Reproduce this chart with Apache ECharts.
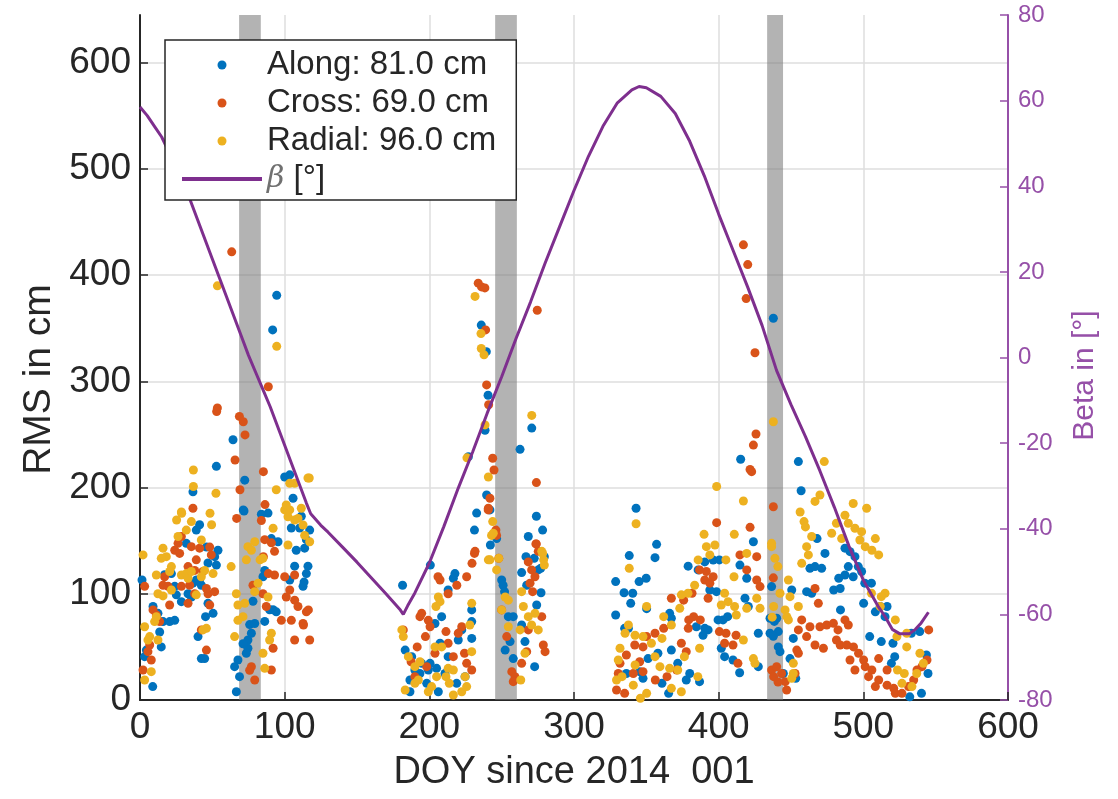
<!DOCTYPE html>
<html><head><meta charset="utf-8">
<script src="https://cdn.jsdelivr.net/npm/echarts@6/dist/echarts.min.js"></script>
<style>html,body{margin:0;padding:0;background:#fff}#c{width:1118px;height:799px}</style>
</head><body><div id="c"></div>
<script>
const seriesNames = ['Along: 81.0 cm', 'Cross: 69.0 cm', 'Radial: 96.0 cm', 'β [°]'];
const xTicks = [0, 100, 200, 300, 400, 500, 600];
const yTicks = [0, 100, 200, 300, 400, 500, 600];
const betaTicks = [-80, -60, -40, -20, 0, 20, 40, 60, 80];
const bandStart = [68.5, 245.5, 433.5];
const bandEnd = [83.5, 260.5, 444.5];

const along = [
[1.4,113],[9,88],[12.4,81.6],[15.9,73.8],[20.5,73.8],[24,75],[13.6,64],[14.7,50],[4.4,47],[3.2,40.8],[8.8,12.6],
[21.7,119],[28.6,92.6],[33.2,100],[36.6,110],[39,113],[41.2,113],[42.4,108],[47,91],[50.5,81.6],[45.3,78.5],[40.1,59.7],[42.4,39],[44.7,39],[47,129],[53.9,141],[51.6,135],[32,147.5],[41.2,165],[38.9,160],[45.9,144],[52.8,127],[24,107],[17,118],[25.1,99],[35.5,97],
[36.6,196],[52.8,220],[64.3,245],[72.4,207],[71.9,178],[88.5,176],[83.9,175],[100,210],[103.5,212],[105.8,190],[111.5,173],[104.6,162],[110.4,162],[117.3,160],[115,151],[108,141],[113.8,143],[116.1,126],[115,119],[113.4,111],[112.7,107],[106.9,126],[103.5,113],[90.8,152],[95.4,149],[86.2,122],[85,116],[92,85],[89.6,85],[94.2,83],[86.2,74],[78.1,93],[75.8,71],[79.3,72],[74.6,56.5],[74.6,48.7],[73.5,44],[67.7,37.7],[65.4,31.4],[68.8,22],[66.6,7.8],[71.2,53],[77,62.8],[94.5,381],[91.7,348.5],[71.4,179],
[181.5,108],[200.7,127],[217.7,119],[216.6,114.6],[213,103.6],[235.9,353],[239.4,328],[240.6,287],[238.5,254],[227,229],[239.6,193],[241.9,179],[232.7,176],[231.2,160],[242.2,146],[246.5,152],[270.8,256],[262.7,236],[274,173],[278.3,160],[268.4,154],[279.5,135],[275.3,122.5],[266.8,135],[263.8,120],[267.3,108],[277.2,101],
[250,113],[251,108],[252,102],[254.6,78.5],[258,78.5],[272.5,133.4],[277,124],[274.2,89.5],[272.8,31.4],[263.8,70.6],[266.1,55],[258,39],[255.8,55],[252.4,47],[229.3,84.8],[229.3,58],[222.4,66],[229.3,73.8],[213,40.8],[210.8,25],[205,29.8],[198.2,15.7],[194.7,34.5],[190,28.3],[186.6,18.8],[183.3,47],[187.8,40.8],[199.3,28.3],[218.9,15.7],[224.7,22],[206.2,7.8],[186.6,7.8],[193.5,25],[203.9,72],[208.5,78.5],[220,56.5],[207.4,53.4],[200.5,34.5],
[342.9,180.5],[357.1,146.6],[356,134],[338.2,136],[328.8,111.5],[334.6,101],[340.6,100.5],[345,111.5],[349.9,114.6],[339.2,91],[328.8,80],[337.6,67.5],[350.2,86],[366.1,81.6],[367.3,77],[378.9,126],[385.8,122.5],[390.4,130],[396.2,131.8],[398.5,102],[393.9,103.6],[392.7,66],[390.4,67.5],[399.6,75.4],[403,75.4],[401.8,48.7],[404.1,40.8],[409.9,37.7],[414.5,25.7],[389.2,61],[384.6,69],[380,25],[377.6,18.8],[386.8,17.3],[365.4,6.3],[360.8,15.7],[371.7,34.5],[367.3,47],[358,44],[351.2,39],[347.7,20.4],[345.4,26.7],[336.2,25],[335,67.5],[418.2,95.8],[420.5,88],[424,149],[427.4,62.8],[427.4,31.4],[419.4,114.6],[414.7,127],[400.5,131.9],[406.2,78.5],[415.2,226.7],[437.8,359.5],
[455.1,224.5],[457,197],[468,152],[463.1,124],[466.6,125.6],[471.2,124],[473.5,138],[487.3,143],[490.8,139.7],[494.2,135],[489.6,125.6],[496.5,125.6],[498.8,121],[487.3,117.7],[493,116],[483,114.6],[479.5,103.6],[484,105],[501,110],[505.6,110],[500.2,91],[508.3,83],[511.7,88],[516.4,88],[515,78.5],[504.4,59.7],[512.4,55],[520.5,53.4],[533.2,62.8],[539,64.4],[519.4,34.5],[521.7,40.8],[543.6,42.4],[544.7,25],[532.1,3],[540.2,6.3],[484.2,84.8],[464.3,100.5],[450.5,103.6],[460.8,102],[436.6,106.8],[435.5,77],[440.1,77],[435.5,62.8],[441.2,64.4],[441.2,50],[442.4,45.5],[451.6,58],[449.3,39],[444.7,25],[453.3,20.4],[437.8,60],[438.5,74]
];

const cross = [
[63.4,422],[53,271.6],[53.5,275],[68.7,267],[71.4,262],[72.6,249.6],[88.7,295],[65.7,226],[85.3,215],[69.1,198],[66.8,171],[86.4,184],
[83.9,169],[86.2,151],[93,140],[90.8,148],[36.6,180.5],[28.6,154],[26.3,147.5],[24,141],[27.4,138],[35.5,144.4],[41.2,143],[48.2,144],[38.9,132],[49.3,136.6],[33.2,125.6],[37.8,122],[43.5,121],[15.9,108],[19.4,107],[17,116],[20.5,89.5],[28.6,107],[33.2,91],[37.8,100],[47,100],[51.6,102],[48.2,89.5],[45.9,105],[34.3,108],[9,84.8],[11.3,80],[13.6,73.8],[6.7,51.8],[7.8,37.7],[2.1,28.3],[5.5,45.5],[42.4,66],[45.9,47],[93,117.7],[100,116],[106.9,117.7],[103.5,103.6],[101.1,97],[106.9,94],[109.2,88],[115,83],[112.7,72],[97.7,75],[104.6,75],[106.9,56.5],[117.3,56.5],[92,48.7],[87.3,88],[85,100],[78.1,108],[77,31.4],[75.8,28],[79.3,18.8],[90.8,28.3],[3.2,107],[116.4,84.8],[113,70.6],[88.7,119],[85.3,135],
[233.8,392.5],[236.1,389],[238.4,388],[238.9,348.5],[239.6,296.7],[241,278],[243.8,227.6],[244.7,216.6],[241.9,190],[240.8,180.5],[231.2,138],[229.5,128.7],[246,160],[274.6,367],[274,204.7],[273.7,147],[268.4,130],[273,116],[269.6,110],[271.4,102],
[206,116],[225.8,116],[219,108],[213,100],[231.6,140],[182,66],[193.5,78.5],[199.3,75],[194.7,81.6],[200.5,69],[197.3,59.7],[191.6,50],[187.4,36],[211.5,64.4],[213,53.4],[222.4,69],[220,62.8],[225.8,34.5],[229.3,28.3],[216.6,40.8],[203.9,44],[198.2,31.4],[190,22],[224.3,44],[250,84.8],[253.5,59.7],[257,26.7],[259.2,22],[258,17.3],[268.4,66],[275.3,140],[270.7,122.5],[277.7,78.5],[278.8,51.8],[280,45.5],[267.3,45.5],[263.8,34.5],[273.9,147],[246.5,155],[248,133.4],[240.7,179],[207.4,113],
[417.1,428.6],[420.1,410],[419,378],[425.1,327],[425.8,250.5],[424,240],[421.7,217],[422.8,215],[437.8,182],[398.6,167],[421.7,162.6],
[414.7,136.6],[426.3,135],[419.4,122.5],[426.3,113],[428.6,106.8],[386.8,122.5],[391.5,121],[396.2,116],[390.4,113],[393.9,110],[381.6,100.5],[375.8,94],[392.7,95.8],[367.3,95.8],[382.7,78.5],[379.3,75.4],[387.3,75.4],[400.5,64.4],[405.1,62.8],[412,61],[404.1,53.4],[409.9,51.8],[413.3,34.5],[362,67.5],[356,62.8],[350.2,59.7],[342,51.8],[347.7,50],[336.2,42.4],[345.4,36],[331.8,34.5],[330.6,25],[341,25],[347.7,26.7],[329.4,9.4],[335,6.3],[356.2,18.8],[364.3,22],[371,28.3],[377.6,45.5],[374.2,53.4],[379,67.5],
[466.6,105],[468.9,91],[457.4,75.4],[455.1,66],[463.1,69],[460.8,59.7],[470,69],[474.7,70.6],[479.3,72.2],[482.5,66],[487.3,75.4],[489.6,70.6],[481.4,56.5],[466.6,51.8],[472.4,48.7],[484,51.8],[488.6,51.8],[493.2,50],[496.7,44],[500.2,37.7],[501.3,31.4],[505.9,28.3],[503.6,22],[510.6,18.8],[516.4,14],[521,11],[522.1,6.3],[526.7,6.3],[531.3,12.6],[534.8,18.8],[537.1,28.3],[540.5,31.4],[544,37.7],[545.2,66],[436.6,28.3],[440.1,31.4],[443.5,25],[447,9.4],[452.8,25],[454,47],[455.1,44],[446,17.3],[510.6,39],[516.4,28.3],[508.3,12.6],[494.2,28.3],[490.8,37.7],[437.8,115],[438,22],[441,17]
];

const radial = [
[53.5,390],[94.5,333],[117,209],[36.9,216.6],[36.9,201],[52.5,194.7],[25.3,169.5],[28.8,175.8],[48.4,175.8],[49.5,165],
[28.6,177],[35.5,168],[26.3,154],[32,160],[42.4,150.7],[15.9,143],[2.1,136.6],[18.2,135],[14.7,133.4],[21.7,125.6],[20.5,121],[11.3,117.7],[28.6,117.7],[32,119],[33.2,114.6],[35.5,121],[50.5,119],[42.4,116],[44.7,122],[12.4,100],[15.9,98],[21.7,103.6],[38.9,99],[3.2,69],[6.7,59.7],[5.5,56.5],[12.4,56.5],[10.1,73.8],[11.3,78.5],[7.8,26.7],[3.2,18.8],[45.9,67.5],[43.5,66],
[74.6,144.4],[79.3,149],[77,141],[73.5,132],[83,132],[63,125.6],[66.6,100],[67.7,89.5],[72.4,91],[71.2,78.5],[67.7,75],[65.4,59.7],[85,133.4],[81.6,110],[79.3,102],[88.5,97],[92,161.7],[90.8,62.8],[89.6,56.5],[86.2,29.8],[85,44],[100,179],[103.5,179],[101.1,183.7],[106.9,204],[116.1,209],[111.5,180.5],[109.2,171],[106.9,169.5],[113.8,155],[102.3,146],[103.5,204],[94.2,198],[117.3,149],[102.3,172.6],[112.7,164.8],
[231.6,380],[235.7,345],[235.9,331],[237.8,325],[238.5,259],[240.8,210],[243.8,168],[243,155],[240.8,132],[270.8,268],[278.3,138],[279.5,127],[263.8,102],
[244.2,157],[241.9,132],[248,133.4],[246.5,122.5],[252.4,97],[254.6,94],[250,84.8],[265,88],[268.4,78.5],[273,81.6],[275.3,66],[270.7,70.6],[262.7,66],[277.7,140],[279,132],[254.6,69],[266.1,44],[263.2,18.8],[229.3,91],[228,70.6],[206.2,97],[207.4,92.6],[204.6,88],[203.9,50],[208.5,50],[182,59.7],[185.5,40.8],[190,15.7],[192.4,18.8],[183.3,9.4],[199.3,7.8],[201.6,12.6],[211.5,22],[213.8,15.7],[216.6,28.3],[224.7,22],[222.4,7.8],[216.6,4.7],[225.8,12.6],[193.5,36],[190,31.4],[229.3,45.5],[213,29.8],[205,22],[181,66],[226,228],
[437.8,262],[398.6,201],[473,224.5],[417.1,187.4],[410.8,156],[389.9,156],[342.9,166],[338.2,124],
[391.5,144.4],[397.4,146],[393.9,136.6],[405,131.9],[385.8,131.9],[419.4,138],[410.6,116],[404.1,100.5],[406.5,92.6],[411,88],[401.8,89.5],[412.2,80],[419.4,86.3],[426.3,95.8],[428.6,86.3],[417.1,56.5],[424,39],[425.1,34.5],[374.2,99],[378.8,100.5],[383.4,108],[373.1,86.3],[362,78.5],[367.3,70.6],[350.2,88],[337.6,70.6],[335.3,62.8],[342.2,61],[331.8,48.7],[330.6,37.7],[333.2,22],[329.4,18.8],[341,14],[345.9,1.6],[350.2,6.3],[356,40.8],[359.4,31.4],[366.1,29.8],[367.3,11],[371.7,28.3],[376.3,40.8],[386.8,48.7],[385.6,22],[374.2,7.8],[353.5,53.4],[347.7,59.7],[342.2,33],[360.8,58],
[470,193],[466.6,187],[493,185],[502.3,180.5],[487.3,174],[481.4,166.4],[489.6,166.4],[494.2,161.7],[498.8,158.5],[478.1,157],[485,152],[497.6,150.7],[508.3,152],[501.3,144.4],[505.9,141],[510.6,136.6],[464.3,154],[460.8,144.4],[462,136.6],[456.3,177],[459,168],[460,163],[457.4,128.7],[515,100.5],[512.4,97.3],[511.7,88],[505.6,100.5],[522.1,75.4],[523.2,59.7],[530,50],[530,62.8],[539.1,44],[541.5,34.5],[536.9,25],[528.3,25],[523.6,28.3],[526.7,15.7],[533.6,12.6],[448.2,113],[449.3,97.3],[455.1,88],[448.2,75.4],[451.6,34.5],[451.6,25],[450.5,20.4],[440.9,125.6],[438.9,133.4],[436.6,144.4],[436.6,147.5],[442.4,100.5],[445.9,84.8],[447.1,78.5],[438,88],[437,78]
];

const betaDays = [0,5,10,15,20,25,30,35,40,45,50,55,60,65,70,75,80,85,90,95,100,105,110,115,118,125,130,140,150,160,170,180,182,185,190,200,210,220,230,240,250,260,270,280,290,300,310,320,330,340,345,350,360,370,380,390,400,410,420,430,440,450,460,470,480,490,500,505,510,515,520,525,532,536,540,545];
const betaVals = [58.5,56.5,54,51.5,48,44.5,40.5,36.5,32,27.5,23,18.5,14,9.5,5,0.5,-3.5,-7.5,-11.5,-16,-20.5,-25,-29.5,-34,-36.5,-39.2,-40.8,-44.3,-47.8,-51.5,-55.2,-59,-60,-58,-55,-48,-39.5,-30.5,-22,-13,-4.5,4.5,13,22,30.5,39,47,54,59.5,62.5,63.3,63,61,57,50.5,42.5,33.5,25,16.5,7.5,-3,-11,-18.5,-26.5,-35,-44,-52,-55,-58,-60.5,-63.5,-64.5,-64.5,-63.5,-62,-59.5];

const FONT = '"Liberation Sans", Arial, Helvetica, sans-serif';
const DARK = '#262626';
const PURPLE_AX = '#9650a8';
const colors = ['#0072BD', '#D95319', '#EDB120', '#7E2F8E'];

const chart = echarts.init(document.getElementById('c'), null, {renderer: 'canvas'});

const scatterSeries = [along, cross, radial].map((d, i) => ({
  name: seriesNames[i], type: 'scatter', data: d, symbol: 'circle', symbolSize: 9,
  itemStyle: {color: colors[i], opacity: 1}, z: 2, xAxisIndex: 0, yAxisIndex: 0
}));

chart.setOption({
  animation: false,
  backgroundColor: '#ffffff',
  textStyle: {fontFamily: FONT},
  grid: {left: 140, right: 110, top: 15, bottom: 99},
  legend: {
    orient: 'vertical', left: 165, top: 40,
    padding: [6, 20, 2, 17], itemGap: 0, itemWidth: 80, itemHeight: 9,
    backgroundColor: '#ffffff', borderColor: DARK, borderWidth: 1.5, borderRadius: 0,
    selectedMode: false, z: 20,
    textStyle: {fontSize: 33, color: DARK, lineHeight: 38, fontFamily: FONT,
      rich: {b: {fontStyle: 'italic', color: '#707070', fontSize: 30, lineHeight: 38, fontFamily: '"DejaVu Serif", serif'}}},
    formatter: n => n === seriesNames[3] ? '{b|β} [°]' : n,
    data: seriesNames.map((n, i) => i < 3 ? {name: n, icon: 'circle'} : {name: n, icon: 'path://M0,0L80,0L80,4L0,4Z'})
  },
  xAxis: {
    type: 'value', min: xTicks[0], max: xTicks[xTicks.length - 1], interval: 100,
    name: 'DOY since 2014  001', nameLocation: 'middle', nameGap: 54,
    nameTextStyle: {fontSize: 38, color: DARK, fontFamily: FONT},
    axisLine: {show: true, onZero: false, lineStyle: {color: DARK, width: 2}},
    axisTick: {show: true, inside: true, length: 8, lineStyle: {color: DARK, width: 1.5}},
    axisLabel: {fontSize: 37, color: DARK, margin: 9, fontFamily: FONT},
    splitLine: {show: true, showMinLine: false, showMaxLine: false, lineStyle: {color: '#dedede', width: 1.5}}
  },
  yAxis: [{
    type: 'value', min: 0, max: 645, interval: 100, position: 'left',
    name: 'RMS in cm', nameLocation: 'middle', nameGap: 80, nameRotate: 90,
    nameTextStyle: {fontSize: 39, color: DARK, fontFamily: FONT, padding: [0, 44, 0, 0]},
    axisLine: {show: true, lineStyle: {color: DARK, width: 2}},
    axisTick: {show: true, inside: true, length: 8, customValues: yTicks, lineStyle: {color: DARK, width: 1.5}},
    axisLabel: {fontSize: 37, color: DARK, margin: 9, customValues: yTicks, fontFamily: FONT},
    splitLine: {show: true, showMinLine: false, lineStyle: {color: '#dedede', width: 1.5}}
  }, {
    type: 'value', min: betaTicks[0], max: betaTicks[betaTicks.length - 1], interval: 20, position: 'right',
    name: 'Beta in [°]', nameLocation: 'middle', nameGap: 62, nameRotate: 90,
    nameTextStyle: {fontSize: 30, color: PURPLE_AX, fontFamily: FONT, padding: [0, 36, 0, 0]},
    axisLine: {show: true, lineStyle: {color: PURPLE_AX, width: 2}},
    axisTick: {show: true, inside: true, length: 8, lineStyle: {color: PURPLE_AX, width: 1.5}},
    axisLabel: {fontSize: 24, color: PURPLE_AX, margin: 10, fontFamily: FONT},
    splitLine: {show: false}
  }],
  series: [
    ...scatterSeries,
    {
      name: 'bands', type: 'line', data: [], xAxisIndex: 0, yAxisIndex: 0, z: 3, silent: true,
      markArea: {silent: true, itemStyle: {color: 'rgba(117,117,117,0.55)'},
        data: bandStart.map((s, i) => [{xAxis: s}, {xAxis: bandEnd[i]}])}
    },
    {
      name: seriesNames[3], type: 'line', yAxisIndex: 1, xAxisIndex: 0, z: 4,
      data: betaDays.map((d, i) => [d, betaVals[i]]),
      showSymbol: false, symbol: 'none',
      lineStyle: {color: colors[3], width: 3}, itemStyle: {color: colors[3]}
    }
  ]
});
</script></body></html>
